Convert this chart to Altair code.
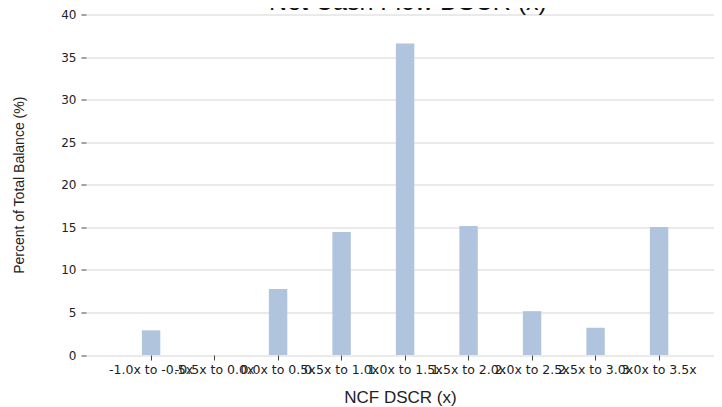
import altair as alt
import pandas as pd

categories = ["-1.0x to -0.5x", "-0.5x to 0.0x", "0.0x to 0.5x", "0.5x to 1.0x",
              "1.0x to 1.5x", "1.5x to 2.0x", "2.0x to 2.5x", "2.5x to 3.0x", "3.0x to 3.5x"]
values = [2.9, 0.0, 7.75, 14.45, 36.6, 15.15, 5.15, 3.2, 15.05]
chart_title = ["Net Cash Flow DSCR (x)"]

df = pd.DataFrame({"bucket": categories, "pct": values})
tdf = pd.DataFrame({"t": chart_title})

W = 628
H = 340.5

bars = alt.Chart(df).mark_bar(color="#b0c4de").encode(
    x=alt.X("bucket:N", sort=categories, title="NCF DSCR (x)",
            scale=alt.Scale(paddingInner=0.71, paddingOuter=0.8, align=0.55),
            axis=alt.Axis(labelAngle=0, labelOverlap=False, labelFont="DejaVu Sans",
                          labelFontSize=12.5, labelColor="#222222", tickColor="#444444",
                          tickSize=5, domain=False, titleFont="Liberation Sans",
                          titleFontSize=17, titleFontWeight="normal", titleColor="#222222",
                          titlePadding=14, labelPadding=3)),
    y=alt.Y("pct:Q", title="Percent of Total Balance (%)",
            scale=alt.Scale(domain=[0, 40], nice=False),
            axis=alt.Axis(values=[0, 5, 10, 15, 20, 25, 30, 35, 40], labelFont="DejaVu Sans",
                          labelFontSize=12, labelColor="#222222", tickColor="#444444",
                          tickSize=5, domain=False, gridColor="#d6d6d6", gridWidth=1.2,
                          titleFont="Liberation Sans", titleFontSize=14,
                          titleFontWeight="normal", titleColor="#222222",
                          titlePadding=34, labelPadding=5)),
)

title = alt.Chart(tdf).mark_text(font="Liberation Sans", fontSize=25, color="#111111",
                                 align="center", baseline="alphabetic").encode(
    text="t:N", x=alt.value(322), y=alt.value(-4.5))

chart = alt.layer(bars, title).properties(
    width=W, height=H,
    autosize=alt.AutoSizeParams(type="none"),
    padding={"left": 78, "top": 6.5, "right": 0, "bottom": 60},
).configure_view(stroke=None)

chart.save("out.html", embed_options={"renderer": "svg", "actions": False})
